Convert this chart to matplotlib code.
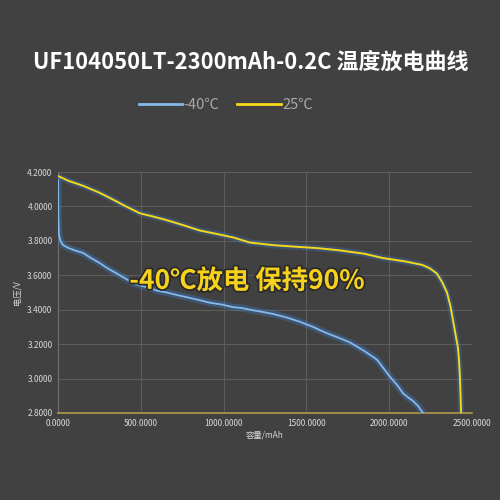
import matplotlib
matplotlib.use("Agg")
import matplotlib.pyplot as plt
import matplotlib.patheffects as pe

plt.rcParams['font.family'] = ['Noto Sans CJK SC', 'DejaVu Sans']

# ---- data ----
cap_25 = [0, 60, 151, 250, 332, 417, 495, 580, 658, 760, 857, 960, 1057, 1159,
          1300, 1450, 1564, 1700, 1850, 1963, 2100, 2200, 2246, 2288, 2320,
          2349, 2370, 2385, 2400, 2415, 2422, 2427, 2431, 2434]
volt_25 = [4.177, 4.15, 4.12, 4.08, 4.04, 3.997, 3.96, 3.94, 3.92, 3.89, 3.86,
           3.84, 3.82, 3.79, 3.775, 3.765, 3.758, 3.745, 3.725, 3.70, 3.68,
           3.66, 3.64, 3.61, 3.56, 3.50, 3.42, 3.34, 3.26, 3.18, 3.10, 3.01,
           2.90, 2.80]

cap_m40 = [0, 2, 5, 15, 30, 60, 100, 151, 200, 254, 300, 356, 400, 453, 500,
           556, 600, 658, 720, 790, 857, 920, 990, 1057, 1110, 1159, 1230,
           1300, 1380, 1461, 1540, 1620, 1700, 1763, 1850, 1926, 2005, 2050,
           2083, 2115, 2144, 2175, 2204]
volt_m40 = [4.15, 3.95, 3.84, 3.80, 3.776, 3.76, 3.745, 3.73, 3.70, 3.67,
            3.64, 3.61, 3.585, 3.555, 3.54, 3.526, 3.51, 3.50, 3.485, 3.47,
            3.455, 3.44, 3.43, 3.415, 3.41, 3.40, 3.388, 3.375, 3.355, 3.33,
            3.30, 3.265, 3.235, 3.21, 3.16, 3.11, 3.01, 2.96, 2.915, 2.89,
            2.87, 2.84, 2.80]

x_ticks = [0, 500, 1000, 1500, 2000, 2500]
y_ticks = [2.8, 3.0, 3.2, 3.4, 3.6, 3.8, 4.0, 4.2]

title = "UF104050LT-2300mAh-0.2C 温度放电曲线"
series_names = ["-40℃", "25℃"]
note = "-40℃放电 保持90%"

BG = "#414141"
BLUE = "#86b8ea"
BLUE_GLOW = "#3d7fd0"
YELLOW = "#f4d81a"

fig = plt.figure(figsize=(5, 5), dpi=100, facecolor=BG)
ax = fig.add_axes([0.116, 0.174, 0.828, 0.482], facecolor=BG)

glow = [pe.Stroke(linewidth=5, foreground=BLUE_GLOW, alpha=0.35), pe.Normal()]
l1, = ax.plot(cap_m40, volt_m40, color=BLUE, lw=1.3, path_effects=glow, zorder=3)
glow2 = [pe.Stroke(linewidth=4.5, foreground=BLUE_GLOW, alpha=0.3), pe.Normal()]
l2, = ax.plot(cap_25, volt_25, color=YELLOW, lw=1.4, path_effects=glow2, zorder=4)

ax.set_xlim(0, 2500)
ax.set_ylim(2.8, 4.2)
ax.set_xticks(x_ticks)
ax.set_xticklabels([f"{v:.4f}" for v in x_ticks])
ax.set_yticks(y_ticks)
ax.set_yticklabels([f"{v:.4f}" for v in y_ticks])
ax.tick_params(colors="#d8d8d8", labelsize=6, length=0, pad=4)
ax.grid(True, color="#5c5c5c", lw=0.8)
ax.set_axisbelow(True)
for s in ["top", "right"]:
    ax.spines[s].set_visible(False)
ax.spines["left"].set_color("#6e6e6e")
ax.spines["bottom"].set_color("#b09a48")
ax.spines["bottom"].set_linewidth(1.2)

ax.set_xlabel("容量/mAh", color="#d8d8d8", fontsize=6, labelpad=2)
ax.set_ylabel("电压/V", color="#d8d8d8", fontsize=6, labelpad=4)

fig.text(0.502, 0.876, title, color="white", fontsize=15.8, fontweight="bold",
         ha="center", va="center")

leg = fig.legend([l1, l2], series_names, loc="center", bbox_to_anchor=(0.452, 0.79),
                 ncol=2, frameon=False, fontsize=10.5, labelcolor="#a8a8a8",
                 handlelength=3.0, handletextpad=0.1, columnspacing=1.2)
for h in leg.legend_handles:
    h.set_linewidth(2)
    h.set_path_effects([])

ax.text(1140, 3.565, note, color="#f7d21c", fontsize=19, fontweight="bold",
        ha="center", va="center", zorder=6,
        path_effects=[pe.withStroke(linewidth=2.5, foreground="#2a2a2a")])

fig.savefig("out.png", dpi=100, facecolor=BG)
